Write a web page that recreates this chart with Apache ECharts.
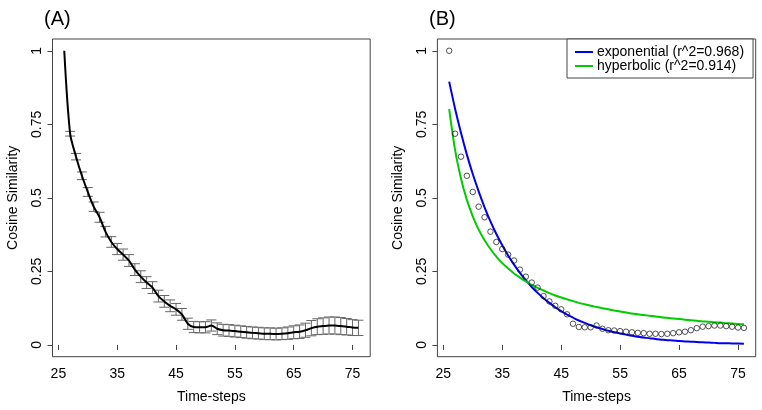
<!DOCTYPE html>
<html>
<head>
<meta charset="utf-8">
<script src="https://cdn.jsdelivr.net/npm/echarts@6/dist/echarts.min.js"></script>
<style>html,body{margin:0;padding:0;background:#fff;}#c{width:762px;height:410px;}</style>
</head>
<body>
<div id="c"></div>
<script>
// Time-steps 26..76
const steps = [26,27,28,29,30,31,32,33,34,35,36,37,38,39,40,41,42,43,44,45,46,47,48,49,50,51,52,53,54,55,56,57,58,59,60,61,62,63,64,65,66,67,68,69,70,71,72,73,74,75,76];
// Mean cosine similarity
const meanSim = [1.000,0.718,0.640,0.575,0.520,0.470,0.434,0.385,0.350,0.326,0.307,0.287,0.256,0.232,0.212,0.195,0.166,0.148,0.133,0.121,0.104,0.072,0.061,0.060,0.060,0.066,0.055,0.050,0.049,0.047,0.045,0.043,0.041,0.040,0.038,0.038,0.037,0.038,0.040,0.043,0.045,0.050,0.057,0.062,0.064,0.066,0.066,0.064,0.062,0.059,0.058];
// Error bar half-widths (null = none)
const errHalf = [null,0.008,0.011,0.013,0.015,0.016,0.017,0.018,0.018,0.019,0.019,0.020,0.020,0.020,0.020,0.020,0.020,0.020,0.020,0.020,0.020,0.019,0.019,0.019,0.019,0.019,0.020,0.020,0.020,0.020,0.020,0.020,0.020,0.020,0.020,0.020,0.020,0.020,0.021,0.022,0.023,0.024,0.026,0.027,0.028,0.029,0.029,0.029,0.028,0.027,0.026];
// Fitted curves
const expFit = [0.895,0.803,0.721,0.647,0.581,0.522,0.468,0.420,0.377,0.339,0.304,0.273,0.245,0.220,0.197,0.177,0.159,0.143,0.128,0.115,0.103,0.093,0.083,0.075,0.067,0.060,0.054,0.048,0.043,0.039,0.035,0.031,0.028,0.025,0.023,0.020,0.018,0.016,0.015,0.013,0.012,0.011,0.010,0.009,0.008,0.007,0.006,0.006,0.005,0.005,0.004];
const hypFit = [0.802,0.663,0.566,0.493,0.437,0.392,0.356,0.326,0.300,0.278,0.260,0.243,0.229,0.216,0.204,0.194,0.185,0.176,0.168,0.161,0.155,0.149,0.143,0.138,0.133,0.129,0.125,0.121,0.117,0.114,0.110,0.107,0.104,0.102,0.099,0.097,0.094,0.092,0.090,0.088,0.086,0.084,0.082,0.080,0.079,0.077,0.076,0.074,0.073,0.071,0.070];
const xTicks = [25,35,45,55,65,75];
const yTicks = [0,0.25,0.5,0.75,1];
const expName = 'exponential (r^2=0.968)';
const hypName = 'hyperbolic (r^2=0.914)';

const FONT = '"Liberation Sans", Arial, Helvetica, sans-serif';
const pairs = arr => steps.map((x,i)=>[x,arr[i]]);
const errData = [];
steps.forEach((x,i)=>{ if(errHalf[i]!=null) errData.push([x, meanSim[i]-errHalf[i], meanSim[i]+errHalf[i]]); });

function xAxisDef(idx){
  return {
    gridIndex: idx, type:'value', min:24, max:78,
    axisLine:{show:false}, splitLine:{show:false},
    axisTick:{show:true, customValues:xTicks, length:5, lineStyle:{color:'#444'}},
    axisLabel:{customValues:xTicks, fontSize:14, color:'#000', margin:10, fontFamily:FONT},
    name:'Time-steps', nameLocation:'middle', nameGap:33,
    nameTextStyle:{fontSize:14, color:'#000', fontFamily:FONT}
  };
}
function yAxisDef(idx){
  return {
    gridIndex: idx, type:'value', min:-0.04, max:1.04,
    axisLine:{show:false}, splitLine:{show:false},
    axisTick:{show:true, customValues:yTicks, length:5, lineStyle:{color:'#444'}},
    axisLabel:{customValues:yTicks, fontSize:14, color:'#000', rotate:90, margin:8, fontFamily:FONT},
    name:'Cosine Similarity', nameLocation:'middle', nameGap:32, nameRotate:90,
    nameTextStyle:{fontSize:14, color:'#000', fontFamily:FONT}
  };
}

const chart = echarts.init(document.getElementById('c'), null, {renderer:'canvas'});
chart.setOption({
  animation:false,
  backgroundColor:'#fff',
  textStyle:{fontFamily:FONT},
  title:[
    {text:'(A)', left:44, top:9, padding:0, textStyle:{fontSize:20, fontWeight:'normal', color:'#000', fontFamily:FONT}},
    {text:'(B)', left:429, top:9, padding:0, textStyle:{fontSize:20, fontWeight:'normal', color:'#000', fontFamily:FONT}}
  ],
  legend:{
    data:[expName, hypName], orient:'vertical', left:567, top:39,
    padding:[6,9,5,8], itemGap:0, itemWidth:18, itemHeight:2, icon:'rect',
    borderColor:'#444', borderWidth:1, backgroundColor:'#fff',
    textStyle:{fontSize:14, lineHeight:11, color:'#000', fontFamily:FONT, padding:[0,0,0,-1]},
    selectedMode:false
  },
  grid:[
    {left:52.5, top:39, width:317.7, height:317.7, show:true, borderColor:'#444', borderWidth:1, containLabel:false},
    {left:437.4, top:39, width:318.3, height:317.7, show:true, borderColor:'#444', borderWidth:1, containLabel:false}
  ],
  xAxis:[xAxisDef(0), xAxisDef(1)],
  yAxis:[yAxisDef(0), yAxisDef(1)],
  series:[
    {
      type:'custom', xAxisIndex:0, yAxisIndex:0, data:errData, z:2,
      renderItem:function(params, api){
        const x = api.value(0);
        const lo = api.coord([x, api.value(1)]);
        const hi = api.coord([x, api.value(2)]);
        const w = 5;
        const st = {stroke:'#666', lineWidth:1};
        return {type:'group', children:[
          {type:'line', shape:{x1:lo[0], y1:lo[1], x2:hi[0], y2:hi[1]}, style:st},
          {type:'line', shape:{x1:lo[0]-w, y1:lo[1], x2:lo[0]+w, y2:lo[1]}, style:st},
          {type:'line', shape:{x1:hi[0]-w, y1:hi[1], x2:hi[0]+w, y2:hi[1]}, style:st}
        ]};
      }
    },
    {
      type:'line', xAxisIndex:0, yAxisIndex:0, data:pairs(meanSim), smooth:0.3,
      showSymbol:false, lineStyle:{color:'#000', width:2}, z:3
    },
    {
      name:expName, type:'line', xAxisIndex:1, yAxisIndex:1, data:pairs(expFit), smooth:0.3,
      showSymbol:false, lineStyle:{color:'#0000ee', width:2}, itemStyle:{color:'#0000ee'}, z:3
    },
    {
      name:hypName, type:'line', xAxisIndex:1, yAxisIndex:1, data:pairs(hypFit), smooth:0.3,
      showSymbol:false, lineStyle:{color:'#00cc00', width:2}, itemStyle:{color:'#00cc00'}, z:3
    },
    {
      type:'scatter', xAxisIndex:1, yAxisIndex:1, data:pairs(meanSim),
      symbol:'circle', symbolSize:5.5,
      itemStyle:{color:'rgba(255,255,255,0)', borderColor:'#111', borderWidth:0.9}, z:4
    }
  ]
});
</script>
</body>
</html>
